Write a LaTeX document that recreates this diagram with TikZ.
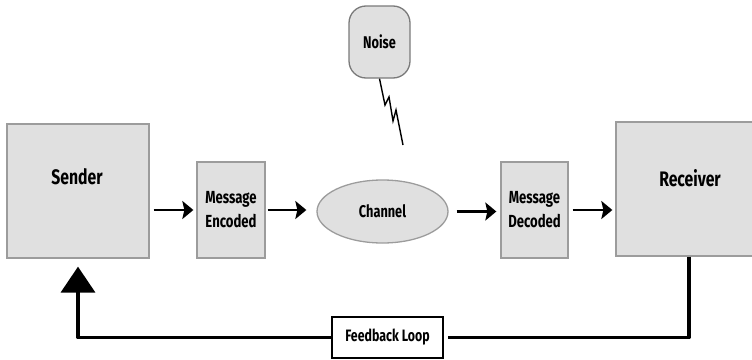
\documentclass[tikz,border=0pt]{standalone}
\usepackage{fontspec}
\setmainfont{Fira Sans}[FakeStretch=0.75]
\usetikzlibrary{arrows.meta,shapes.geometric}
\definecolor{boxfill}{HTML}{E0E0E0}
\definecolor{boxline}{HTML}{9C9C9C}
\definecolor{noiseline}{HTML}{7A7A7A}
\tikzset{
  box/.style={draw=boxline, line width=1.3pt, fill=boxfill, inner sep=0pt, font=\bfseries},
  lbl/.style={font=\bfseries, inner sep=0pt, align=center},
  flow/.style={line width=2.4pt, -{Stealth[length=11pt,width=18pt,inset=2pt]}},
  feedback/.style={line width=3.8pt, line join=round},
}
\begin{document}
\begin{tikzpicture}[x=1pt,y=-1pt]
\useasboundingbox (0,0) rectangle (752,359);

% main boxes
\node[box, minimum width=142pt, minimum height=134pt] (sender) at (78,191) {};
\node[lbl, font=\bfseries\fontsize{21}{23}\selectfont] (sendertext) at (77,177) {Sender};

\node[box, minimum width=68pt, minimum height=96pt, font=\bfseries\fontsize{17.5}{24}\selectfont, align=center] (enc) at (231,210) {Message\\Encoded};

\node[box, ellipse, minimum width=131pt, minimum height=63pt, font=\bfseries\fontsize{17}{19}\selectfont] (channel) at (382.5,211.5) {Channel};

\node[box, draw=noiseline, rounded corners=17pt, minimum width=61pt, minimum height=72pt, font=\bfseries\fontsize{17}{19}\selectfont] (noise) at (379.5,42) {Noise};

\node[box, minimum width=67pt, minimum height=96pt, font=\bfseries\fontsize{17.5}{24}\selectfont, align=center] (dec) at (534.5,210) {Message\\Decoded};

\node[box, minimum width=146pt, minimum height=134pt] (receiver) at (689,189) {};
\node[lbl, font=\bfseries\fontsize{21}{23}\selectfont] (receivertext) at (690,178) {Receiver};

\node[draw=black, line width=1.6pt, fill=white, minimum width=111pt, minimum height=41pt, inner sep=0pt, font=\bfseries\fontsize{16.5}{19}\selectfont] (fbloop) at (387.5,337.5) {Feedback Loop};

% forward flow
\draw[flow, shorten <=4pt, shorten >=3pt] (sender.east |- enc.west) -- (enc.west);
\draw[flow, shorten <=2pt, shorten >=10pt] (enc.east) -- (enc.east -| channel.west);
\draw[flow, shorten <=8pt, shorten >=4pt] (channel.east) -- (channel.east -| dec.west);
\draw[flow, shorten <=4pt, shorten >=3pt] (dec.east) -- (dec.east -| receiver.west);

% noise interference
\coordinate (zigend) at (403,145);
\draw[line width=1.4pt, line join=miter] (noise.south) -- (385,105) -- (389,97) -- (393,121) -- (396,110) -- (zigend);

% feedback loop
\draw[feedback, shorten >=4pt] (receiver.south) |- (fbloop.east);
\draw[feedback, shorten >=8pt, -{Triangle[length=26pt,width=34pt]}] (fbloop.west) -| (sender.south);
\end{tikzpicture}
\end{document}
